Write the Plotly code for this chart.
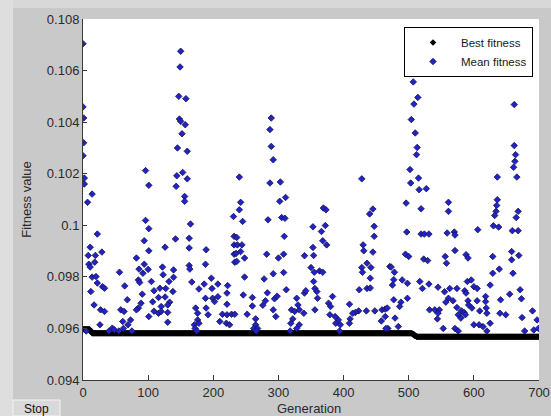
import numpy as np
import plotly.graph_objects as go

# Best fitness per generation, stored as (level, run length) pairs
best_levels = [0.09597, 0.09589, 0.09581, 0.09577, 0.09572, 0.09568]
best_runs = [11, 3, 492, 3, 3, 189]

# Mean fitness samples (generation, value)
mean_gen = [
    0, 0, 1, 1, 0, 2, 2, 14, 7, 22, 11, 8, 19, 29, 9, 18, 14, 20, 12, 22, 30, 33, 17, 27, 33, 26,
    45, 55, 56, 64, 68, 58, 63, 61, 73, 69, 96, 101, 96, 101, 94, 101, 82, 94, 86, 100, 92, 85,
    105, 87, 91, 109, 85, 82, 89, 107, 109, 101, 5, 40, 48, 62, 75, 11,
    150, 149, 147, 158, 148, 150, 157, 152, 145, 160, 144, 153, 160, 143, 156, 156, 165, 142, 163,
    126, 163, 189, 122, 139, 163, 164, 188, 123, 132, 139, 118, 127, 138, 167, 178, 186, 197, 198,
    207, 222, 116, 126, 133, 188, 199, 202, 207, 221, 120, 130, 116, 120, 130, 173, 176, 189, 192,
    221, 214, 221, 228, 130, 171, 176, 210, 220, 225, 231, 232, 232, 232, 233, 172, 178, 175,
    240, 242, 240, 245, 236, 237, 244, 235, 242, 236, 248, 248, 246, 260, 260, 252, 265, 265, 262,
    268, 233, 289, 287, 289, 292, 287, 303, 302, 311, 305, 310, 284, 309, 282, 308, 300, 292, 308,
    278, 283, 312, 280, 276, 294, 298, 292, 296, 328, 340, 342, 340, 320, 325, 332, 339, 330, 322,
    332, 319, 266, 318, 328,
    369, 373, 353, 372, 366, 368, 374, 353, 354, 350, 355, 363, 368, 354, 356, 359, 360, 356, 377,
    383, 380, 379, 387, 392, 388, 395, 428, 445, 440, 447, 447, 430, 431, 445, 428, 436, 442, 429,
    441, 424, 436, 441, 471, 409, 423, 418, 435, 448, 459, 464, 414, 410, 409, 458, 464, 468, 394,
    507, 507, 514, 508, 504, 510, 513, 512, 502, 515, 503, 516, 527, 496, 519, 561, 561, 497, 519,
    524, 531, 559, 570, 571, 495, 500, 523, 529, 556, 558, 571, 588, 473, 478, 477, 490, 475, 498,
    517, 521, 531, 545, 555, 563, 574, 586, 477, 488, 498, 561, 568, 557, 467, 486, 532, 540, 547,
    545, 574, 581, 576, 585, 544, 580, 479, 484, 465, 553, 571, 576,
    662, 662, 664, 663, 661, 666, 636, 636, 635, 634, 632, 630, 638, 668, 665, 659, 668, 606, 658,
    658, 669, 591, 629, 629, 639, 660, 590, 596, 600, 605, 625, 588, 591, 605, 618, 618, 641, 655,
    671, 673, 592, 597, 609, 619, 620, 640, 649, 690, 674, 697, 587, 600, 608, 614, 620, 625, 678,
    692, 699,
]
mean_val = [
    0.10704, 0.10459, 0.10416, 0.10320, 0.10270, 0.10183, 0.10160, 0.10121, 0.10089, 0.09966,
    0.09915, 0.09883, 0.09883, 0.09896, 0.09849, 0.09857, 0.09799, 0.09801, 0.09743, 0.09776,
    0.09762, 0.09756, 0.09691, 0.09672, 0.09666, 0.09614, 0.09601, 0.09590, 0.09818, 0.09765,
    0.09711, 0.09672, 0.09666, 0.09627, 0.09633, 0.09614, 0.10212, 0.10155, 0.10019, 0.09987,
    0.09940, 0.09901, 0.09873, 0.09849, 0.09830, 0.09829, 0.09814, 0.09788, 0.09782, 0.09778,
    0.09733, 0.09746, 0.09679, 0.09672, 0.09698, 0.09703, 0.09667, 0.09646, 0.09590, 0.09590,
    0.09595, 0.09600, 0.09590, 0.09838,
    0.10675, 0.10614, 0.10500, 0.10491, 0.10412, 0.10403, 0.10390, 0.10355, 0.10300, 0.10287,
    0.10192, 0.10205, 0.10180, 0.10151, 0.10112, 0.10093, 0.10005, 0.09947, 0.09950, 0.09915,
    0.09912, 0.09905, 0.09838, 0.09827, 0.09844, 0.09830, 0.09849, 0.09808, 0.09782, 0.09798,
    0.09756, 0.09755, 0.09743, 0.09780, 0.09753, 0.09772, 0.09795, 0.09755, 0.09772, 0.09766,
    0.09720, 0.09722, 0.09702, 0.09717, 0.09717, 0.09704, 0.09723, 0.09737, 0.09685, 0.09691,
    0.09659, 0.09666, 0.09662, 0.09679, 0.09659, 0.09679, 0.09653, 0.09694, 0.09655, 0.09653,
    0.09655, 0.09624, 0.09614, 0.09633, 0.09627, 0.09620, 0.09614, 0.10034, 0.09957, 0.09924,
    0.09888, 0.09857, 0.09600, 0.09620, 0.09590,
    0.10187, 0.10089, 0.10060, 0.10015, 0.09953, 0.09924, 0.09924, 0.09891, 0.09898, 0.09860,
    0.09873, 0.09799, 0.09730, 0.09720, 0.09687, 0.09655, 0.09637, 0.09614, 0.09600, 0.09600,
    0.09655, 0.10416, 0.10371, 0.10306, 0.10254, 0.10164, 0.10168, 0.10093, 0.10108, 0.10030,
    0.10027, 0.10021, 0.09957, 0.09888, 0.09888, 0.09873, 0.09812, 0.09817, 0.09792, 0.09738,
    0.09750, 0.09707, 0.09690, 0.09715, 0.09725, 0.09672, 0.09646, 0.09717, 0.09737, 0.09746,
    0.09882, 0.09672, 0.09666, 0.09672, 0.09659, 0.09691, 0.09637, 0.09614, 0.09620, 0.09590,
    0.09590, 0.09600,
    0.10067, 0.10060, 0.09994, 0.09999, 0.09976, 0.09940, 0.09924, 0.09914, 0.09883, 0.09836,
    0.09818, 0.09823, 0.09818, 0.09782, 0.09755, 0.09743, 0.09717, 0.09672, 0.09698, 0.09724,
    0.09685, 0.09653, 0.09646, 0.09633, 0.09620, 0.09614, 0.10180, 0.10063, 0.10044, 0.09996,
    0.09957, 0.09924, 0.09901, 0.09896, 0.09836, 0.09853, 0.09836, 0.09818, 0.09795, 0.09750,
    0.09755, 0.09757, 0.09840, 0.09694, 0.09668, 0.09662, 0.09668, 0.09668, 0.09672, 0.09675,
    0.09659, 0.09637, 0.09620, 0.09629, 0.09646, 0.09600, 0.09590,
    0.10607, 0.10556, 0.10496, 0.10470, 0.10410, 0.10358, 0.10302, 0.10274, 0.10216, 0.10183,
    0.10164, 0.10138, 0.10142, 0.10086, 0.10064, 0.10089, 0.10054, 0.09974, 0.09966, 0.09966,
    0.09966, 0.09970, 0.09974, 0.09962, 0.09888, 0.09879, 0.09869, 0.09863, 0.09879, 0.09853,
    0.09902, 0.09886, 0.09838, 0.09818, 0.09789, 0.09788, 0.09768, 0.09775, 0.09782, 0.09755,
    0.09772, 0.09760, 0.09742, 0.09755, 0.09755, 0.09746, 0.09711, 0.09702, 0.09717, 0.09717,
    0.09707, 0.09702, 0.09679, 0.09685, 0.09672, 0.09672, 0.09672, 0.09659, 0.09681, 0.09668,
    0.09653, 0.09662, 0.09637, 0.09640, 0.09640, 0.09607, 0.09600, 0.09600, 0.09600, 0.09590,
    0.10468, 0.10309, 0.10274, 0.10248, 0.10225, 0.10187, 0.10187, 0.10099, 0.10077, 0.10054,
    0.10038, 0.09998, 0.09993, 0.10054, 0.10030, 0.09979, 0.09979, 0.09983, 0.09898, 0.09866,
    0.09883, 0.09873, 0.09879, 0.09814, 0.09830, 0.09814, 0.09782, 0.09788, 0.09762, 0.09755,
    0.09768, 0.09737, 0.09707, 0.09707, 0.09724, 0.09704, 0.09711, 0.09733, 0.09750, 0.09715,
    0.09691, 0.09679, 0.09668, 0.09679, 0.09659, 0.09659, 0.09653, 0.09668, 0.09642, 0.09633,
    0.09653, 0.09614, 0.09614, 0.09607, 0.09590, 0.09620, 0.09590, 0.09594, 0.09600,
]

x_ticks = [0, 100, 200, 300, 400, 500, 600, 700]
y_ticks = [0.094, 0.096, 0.098, 0.100, 0.102, 0.104, 0.106, 0.108]
y_tick_text = ["0.094", "0.096", "0.098", "0.1", "0.102", "0.104", "0.106", "0.108"]

best_val = np.repeat(best_levels, best_runs)
best_gen = np.arange(len(best_val))

W, H = 551, 416
ML, MR, MT, MB = 83, 12, 19, 36
PW, PH = W - ML - MR, H - MT - MB


def px(xp):
    return (xp - ML) / PW


def py(yp):
    return (H - MB - yp) / PH


fig = go.Figure()
fig.add_trace(go.Scatter(
    x=best_gen, y=best_val, mode="markers", name="Best fitness",
    marker=dict(symbol="diamond", size=5, color="#000000", line=dict(width=0)),
))
fig.add_trace(go.Scatter(
    x=mean_gen, y=mean_val, mode="markers", name="Mean fitness",
    marker=dict(symbol="diamond", size=5, color="#2222c8", line=dict(width=0.8, color="#14144a")),
))

font_family = "Liberation Sans, Arial, sans-serif"
axis_col = "#3a3a3a"
text_col = "#2a2a2a"

fig.update_layout(
    width=W, height=H,
    margin=dict(l=ML, r=MR, t=MT, b=MB, pad=0),
    paper_bgcolor="#c9c9c9",
    plot_bgcolor="#ffffff",
    font=dict(family=font_family, size=13, color=text_col),
    showlegend=True,
    legend=dict(
        x=px(533), y=py(27), xanchor="right", yanchor="top",
        bgcolor="#ffffff", bordercolor="#000000", borderwidth=1,
        font=dict(size=11.5, color="#1a1a1a"),
        itemwidth=46, tracegroupgap=0,
    ),
    xaxis=dict(
        range=[0, 700], tickvals=x_ticks, ticks="inside", ticklen=5, tickcolor=axis_col,
        showline=True, linecolor=axis_col, linewidth=1, showgrid=False, zeroline=False,
        automargin=False,
        tickfont=dict(size=13),
    ),
    yaxis=dict(
        range=[0.094, 0.108], tickvals=y_ticks, ticktext=y_tick_text, ticks="inside",
        ticklen=4, tickcolor=axis_col, showline=True, linecolor=axis_col, linewidth=1,
        showgrid=False, zeroline=False, automargin=False,
        title=dict(text="Fitness value", standoff=12, font=dict(size=13)),
        tickfont=dict(size=13),
    ),
)

# Horizontal axis title
fig.add_annotation(xref="paper", yref="paper", x=px(309), y=py(409), text="Generation",
                   showarrow=False, xanchor="center", yanchor="middle",
                   font=dict(size=13, color=text_col))

# Window frame strips and the Stop button
fig.add_shape(type="rect", xref="paper", yref="paper", x0=px(0), x1=px(13), y0=py(H), y1=py(0),
              fillcolor="#dedede", line=dict(width=0), layer="below")
fig.add_shape(type="rect", xref="paper", yref="paper", x0=px(13), x1=px(W), y0=py(8), y1=py(0),
              fillcolor="#d8d8d8", line=dict(width=0), layer="below")
fig.add_shape(type="rect", xref="paper", yref="paper", x0=px(13), x1=px(60), y0=py(H), y1=py(400),
              fillcolor="#d9d9d9", line=dict(width=1, color="#f4f4f4"))
fig.add_annotation(xref="paper", yref="paper", x=px(36.5), y=py(408.5), text="Stop", showarrow=False,
                   font=dict(size=12, color="#111111"), xanchor="center", yanchor="middle")

fig.write_html("out.html")
